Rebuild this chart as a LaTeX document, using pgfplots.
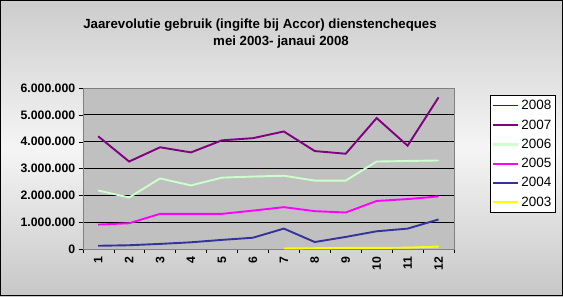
\documentclass[border=0pt]{standalone}
\usepackage{pgfplots}
\pgfplotsset{compat=1.18}
\usepackage{fontspec}
\setmainfont{Liberation Sans}
\definecolor{c2008}{HTML}{800000}
\definecolor{c2007}{HTML}{800080}
\definecolor{c2006}{HTML}{CCFFCC}
\definecolor{c2005}{HTML}{FF00FF}
\definecolor{c2004}{HTML}{333399}
\definecolor{c2003}{HTML}{FFFF00}
\definecolor{plotbg}{HTML}{C0C0C0}
\begin{document}
\begin{tikzpicture}[x=1bp,y=1bp]
\useasboundingbox (0,0) rectangle (563,296);
\shade[top color=black!20, bottom color=black!22, middle color=black!4] (0,0) rectangle (563,296);
\draw[black, line width=1.2bp] (0.6,0.6) rectangle (562.4,295.4);
\node[font=\bfseries\fontsize{13.3}{14}\selectfont] at (260,271) {Jaarevolutie gebruik (ingifte bij Accor) dienstencheques};
\node[font=\bfseries\fontsize{13.3}{14}\selectfont] at (281,254) {mei 2003- janaui 2008};
\begin{axis}[
  at={(82.7bp,47bp)}, anchor=south west,
  scale only axis, width=371.3bp, height=161bp,
  xmin=0.5, xmax=12.5, ymin=0, ymax=6000000,
  axis background/.style={fill=plotbg},
  axis line style={draw=black!50},
  xtick={1,...,12},
  major x tick style={draw=none},
  minor xtick={0.5,1.5,...,12.5},
  minor x tick style={black},
  minor tick length=4bp,
  ytick={0,1000000,...,6000000},
  major tick length=4bp,
  tick align=outside,
  y tick style={black},
  xtick pos=bottom, ytick pos=left,
  ymajorgrids, grid style={black, line width=0.8bp},
  scaled y ticks=false,
  /pgf/number format/.cd, fixed, 1000 sep={.}, assume math mode=true,
  /pgfplots/.cd,
  yticklabel style={font=\bfseries\fontsize{12.3}{13}\selectfont},
  xticklabel style={font=\bfseries\fontsize{12.3}{13}\selectfont, rotate=90, anchor=east},
  every axis plot/.append style={line width=1.9bp, mark=none},
  legend style={at={(1.097,0.955)}, anchor=north west, draw=black, fill=white,
    font=\fontsize{13.5}{15}\selectfont, row sep=4.4bp, inner xsep=2bp, inner ysep=3bp},
  legend cell align=left,
  legend image code/.code={\draw[#1] (0bp,0bp) -- (25bp,0bp);},
]
\addlegendimage{c2008!85!red, line width=1bp}
\addlegendentry{2008}
\addlegendimage{c2007, line width=2.2bp}
\addlegendentry{2007}
\addlegendimage{c2006, line width=2.2bp}
\addlegendentry{2006}
\addlegendimage{c2005, line width=2.2bp}
\addlegendentry{2005}
\addlegendimage{c2004, line width=2.2bp}
\addlegendentry{2004}
\addlegendimage{c2003, line width=2.2bp}
\addlegendentry{2003}
\addplot[c2007, forget plot] coordinates {(1,4200000)(2,3260000)(3,3790000)(4,3600000)(5,4050000)(6,4130000)(7,4380000)(8,3650000)(9,3550000)(10,4880000)(11,3850000)(12,5650000)};
\addplot[c2006, forget plot] coordinates {(1,2180000)(2,1920000)(3,2630000)(4,2370000)(5,2660000)(6,2700000)(7,2730000)(8,2550000)(9,2550000)(10,3260000)(11,3280000)(12,3300000)};
\addplot[c2005, forget plot] coordinates {(1,910000)(2,960000)(3,1310000)(4,1310000)(5,1310000)(6,1430000)(7,1560000)(8,1410000)(9,1360000)(10,1790000)(11,1860000)(12,1960000)};
\addplot[c2004, forget plot] coordinates {(1,120000)(2,140000)(3,190000)(4,250000)(5,340000)(6,420000)(7,760000)(8,260000)(9,450000)(10,660000)(11,760000)(12,1100000)};
\addplot[c2003, forget plot] coordinates {(7,20000)(8,30000)(9,40000)(10,40000)(11,50000)(12,90000)};
\end{axis}
\end{tikzpicture}
\end{document}
